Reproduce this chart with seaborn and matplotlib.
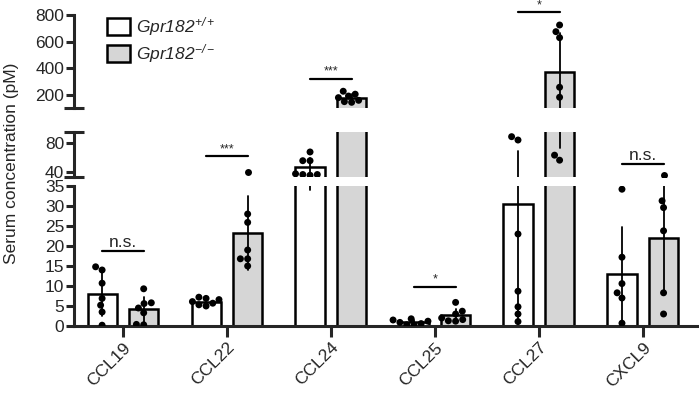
import numpy as np
import pandas as pd
import seaborn as sns
import matplotlib.pyplot as plt
from matplotlib.patches import Patch

# Data (pM)
chemokines = ["CCL19", "CCL22", "CCL24", "CCL25", "CCL27", "CXCL9"]
genotypes = ["WT", "KO"]

ccl19_wt = [14.0, 14.8, 10.7, 6.9, 5.2, 3.5, 0.2]
ccl19_ko = [9.3, 5.8, 5.6, 4.5, 3.3, 0.4, 0.3]
ccl22_wt = [7.2, 6.9, 6.6, 6.1, 5.7, 5.3, 5.0]
ccl22_ko = [41.0, 28.0, 25.9, 19.0, 16.8, 16.8, 15.0]
ccl24_wt = [68, 56, 56, 38, 37, 36, 37]
ccl24_ko = [228, 206, 192, 180, 160, 150, 145]
ccl25_wt = [1.8, 1.5, 1.2, 0.9, 0.6, 0.3, 0.2]
ccl25_ko = [5.9, 3.7, 3.0, 2.0, 1.6, 1.2, 1.3]
ccl27_wt = [89, 84.4, 23.0, 8.7, 4.8, 3.0, 1.1]
ccl27_ko = [725, 675, 630, 258, 183, 63.6, 56.7]
cxcl9_wt = [34.2, 17.2, 10.6, 8.3, 7.0, 0.7]
cxcl9_ko = [36.0, 31.3, 29.6, 23.8, 8.3, 3.0]

sig_labels = ["n.s.", "***", "***", "*", "*", "n.s."]
sig_heights = [18.7, 62, 318, 9.8, 820, 51]

series = {
    ("CCL19", "WT"): ccl19_wt, ("CCL19", "KO"): ccl19_ko,
    ("CCL22", "WT"): ccl22_wt, ("CCL22", "KO"): ccl22_ko,
    ("CCL24", "WT"): ccl24_wt, ("CCL24", "KO"): ccl24_ko,
    ("CCL25", "WT"): ccl25_wt, ("CCL25", "KO"): ccl25_ko,
    ("CCL27", "WT"): ccl27_wt, ("CCL27", "KO"): ccl27_ko,
    ("CXCL9", "WT"): cxcl9_wt, ("CXCL9", "KO"): cxcl9_ko,
}
rows = []
for (chem, gt), vals in series.items():
    for v in vals:
        rows.append({"chemokine": chem, "genotype": gt, "value": v})
df = pd.DataFrame(rows)

# Style
sns.set_style("ticks")
plt.rcParams["font.family"] = ["Liberation Sans", "DejaVu Sans"]
plt.rcParams["mathtext.fontset"] = "custom"
plt.rcParams["mathtext.it"] = "Liberation Sans:italic"
plt.rcParams["mathtext.rm"] = "Liberation Sans:italic"
plt.rcParams["mathtext.sf"] = "Liberation Sans:italic"

fs = 12.5
lw_axis = 2.2

fig = plt.figure(figsize=(6.99, 3.94), dpi=100)
left, width = 0.1059, 0.891
ax_top = fig.add_axes([left, 0.7251, width, 0.2368])
ax_mid = fig.add_axes([left, 0.5515, width, 0.1127])
ax_bot = fig.add_axes([left, 0.1726, width, 0.3553])

# axis, y-limits, ticks, break caps, range of points shown on that segment
segments = [
    (ax_top, (100, 800), [200, 400, 600, 800], [100], (100, 1e9)),
    (ax_mid, (34, 95), [40, 80], [34, 95], (35, 100)),
    (ax_bot, (0, 35), list(range(0, 31, 5)), [35], (0, 35)),
]

for ax, ylim, ticks, caps, prange in segments:
    sns.barplot(
        data=df, x="chemokine", y="value", hue="genotype",
        order=chemokines, hue_order=genotypes,
        palette={"WT": "white", "KO": "#d6d6d6"},
        errorbar="sd", capsize=0,
        err_kws={"linewidth": 1.3, "color": "black"},
        edgecolor="black", linewidth=1.8,
        width=0.8, gap=0.3, ax=ax, legend=False,
    )
    inside = (df["value"] > prange[0]) & (df["value"] <= prange[1])
    if prange[0] == 0:
        inside = df["value"] <= prange[1]
    seg = df.assign(value=df["value"].where(inside))
    sns.swarmplot(
        data=seg, x="chemokine", y="value", hue="genotype",
        order=chemokines, hue_order=genotypes,
        palette={"WT": "black", "KO": "black"},
        dodge=True, size=5, ax=ax, legend=False,
    )
    ax.set_ylim(*ylim)
    ax.set_xlim(-0.47, 5.52)
    ax.set_yticks(ticks)
    ax.set_yticks(caps, minor=True)
    ax.tick_params(axis="y", which="major", length=6, width=lw_axis,
                   labelsize=fs, pad=1)
    ax.tick_params(axis="y", which="minor", direction="inout",
                   length=14, width=lw_axis)
    ax.set_xlabel("")
    ax.set_ylabel("")
    ax.set_facecolor("none")
    for s in ["top", "right"]:
        ax.spines[s].set_visible(False)
    ax.spines["left"].set_linewidth(lw_axis)
    ax.spines["bottom"].set_linewidth(lw_axis)

for ax in [ax_top, ax_mid]:
    ax.spines["bottom"].set_visible(False)
    ax.tick_params(axis="x", bottom=False, labelbottom=False)

ax_bot.tick_params(axis="x", length=8, width=lw_axis, labelsize=fs, pad=2)
ax_bot.set_yticks(list(range(0, 31, 5)) + [35])
ax_bot.set_yticklabels([str(t) for t in range(0, 36, 5)])
for lab in ax_bot.get_xticklabels():
    lab.set_rotation(45)
    lab.set_ha("right")
    lab.set_rotation_mode("anchor")

# Significance brackets
for i, (lab, h) in enumerate(zip(sig_labels, sig_heights)):
    if h > 100:
        ax = ax_top
    elif h > 35:
        ax = ax_mid
    else:
        ax = ax_bot
    ax.plot([i - 0.2, i + 0.2], [h, h], color="black", lw=1.6, clip_on=False)
    size = 9 if "*" in lab else fs
    ax.annotate(lab, (i, h), xytext=(0, 1), textcoords="offset points",
                ha="center", va="bottom", fontsize=size, annotation_clip=False)

# Legend
handles = [
    Patch(facecolor="white", edgecolor="black", linewidth=1.8,
          label=r"$Gpr182^{+/+}$"),
    Patch(facecolor="#d6d6d6", edgecolor="black", linewidth=1.8,
          label=r"$Gpr182^{-/-}$"),
]
fig.legend(handles=handles, loc="upper left",
           bbox_to_anchor=(100 / 699, 1 - 8 / 394), frameon=False,
           fontsize=fs, handlelength=1.3, handleheight=1.1,
           handletextpad=0.4, labelspacing=0.25, borderaxespad=0)

fig.text(0.016, 0.586, "Serum concentration (pM)", rotation=90,
         va="center", ha="center", fontsize=fs)

fig.savefig("out.png", dpi=100)
